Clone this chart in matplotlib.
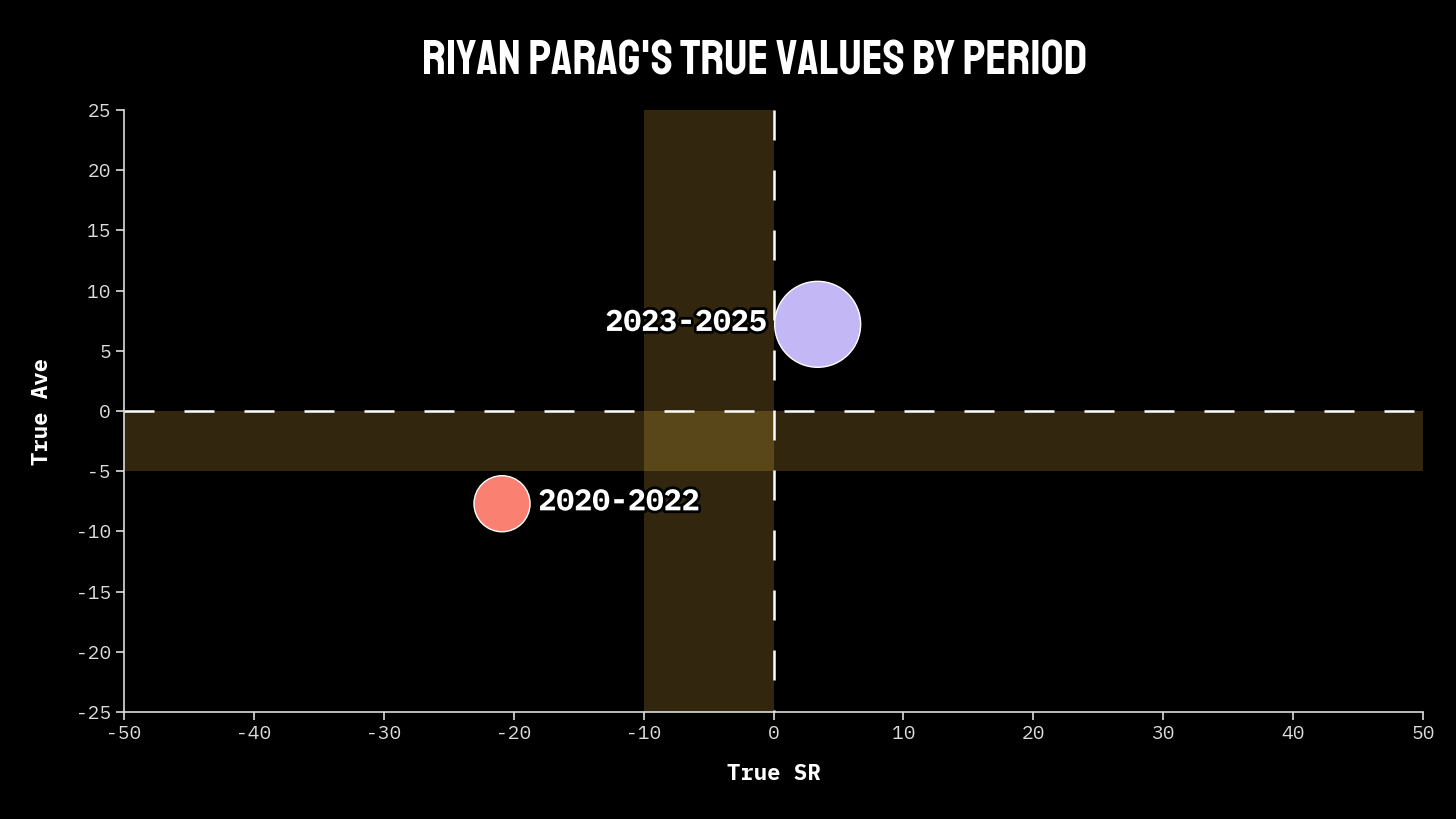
import matplotlib.pyplot as plt
import matplotlib.patheffects as pe
from matplotlib import font_manager

periods = ['2020-2022', '2023-2025']
true_sr = [-20.9, 3.4]
true_ave = [-7.7, 7.2]
bubble_size = [1630, 3830]
colors = ['#fa8072', '#c3b8f5']
label_side = ['right', 'left']

band_sr = (-10, 0)
band_ave = (-5, 0)

installed = {f.name for f in font_manager.fontManager.ttflist}


def pick(*fams):
    return [f for f in fams if f in installed] + ['DejaVu Sans']


mono = pick('IBM Plex Mono', 'DejaVu Sans Mono')
title_font = pick('Staatliches', 'Bebas Neue', 'Oswald')

plt.rcParams['font.family'] = mono
plt.rcParams['axes.unicode_minus'] = False

fig = plt.figure(figsize=(14.56, 8.19), dpi=100, facecolor='black')
ax = fig.add_axes([0.0852, 0.1306, 0.8921, 0.7351])
ax.set_facecolor('black')
ax.set_xlim(-50, 50)
ax.set_ylim(-25, 25)

# shaded bands
ax.axvspan(band_sr[0], band_sr[1], color='#ffc848', alpha=0.2, lw=0, zorder=1)
ax.axhspan(band_ave[0], band_ave[1], color='#ffc848', alpha=0.2, lw=0, zorder=1)

# reference lines through zero
ax.plot([-50, 50], [0, 0], color='white', lw=1.8, dashes=(12, 12), zorder=2, clip_on=False)
ax.plot([0, 0], [25, -25], color='white', lw=1.8, dashes=(12, 12), zorder=2, clip_on=False)

ax.scatter(true_sr, true_ave, s=bubble_size, c=colors, edgecolors='white', linewidths=1, zorder=3)

for x, y, s, lab, side in zip(true_sr, true_ave, bubble_size, periods, label_side):
    r = (s ** 0.5) / 2
    dx = r + 6 if side == 'right' else -(r + 6)
    ax.annotate(lab, (x, y), xytext=(dx, 1), textcoords='offset points',
                ha='left' if side == 'right' else 'right', va='center',
                fontsize=21.5, fontweight='bold', color='white', zorder=4,
                path_effects=[pe.withStroke(linewidth=4, foreground='black')])

for sp in ['top', 'right']:
    ax.spines[sp].set_visible(False)
for sp in ['left', 'bottom']:
    ax.spines[sp].set_color('#dddddd')
    ax.spines[sp].set_linewidth(1.2)

ax.set_xticks(range(-50, 51, 10))
ax.set_yticks(range(-25, 26, 5))
ax.tick_params(colors='#dddddd', labelsize=14, length=6, width=1.2)
ax.set_xlabel('True SR', color='white', fontsize=16, fontweight='bold', labelpad=14)
ax.set_ylabel('True Ave', color='white', fontsize=16, fontweight='bold', labelpad=16)

fig.text(0.5185, 0.93, "RIYAN PARAG'S TRUE VALUES BY PERIOD", ha='center', va='center',
         color='white', fontsize=36, family=title_font)

fig.savefig('out.png', dpi=100, facecolor='black')
